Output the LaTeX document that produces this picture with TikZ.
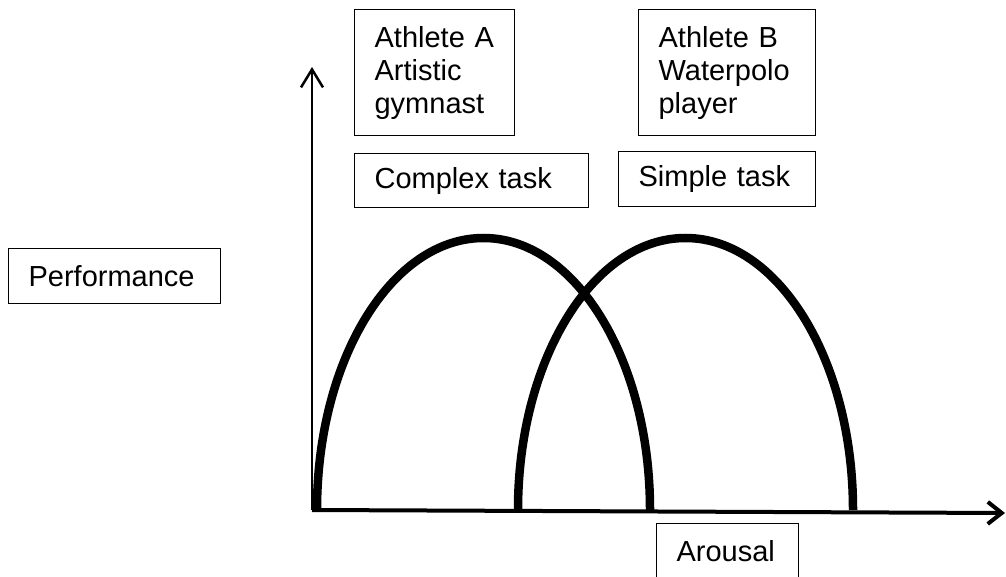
\documentclass[tikz,border=0pt]{standalone}
\usepackage{fontspec}
\setmainfont{Liberation Sans}
\usetikzlibrary{arrows.meta}
\begin{document}
\begin{tikzpicture}[x=1bp,y=-1bp,
  lbl/.style={draw, line width=1.2bp, anchor=north west, align=left,
    inner xsep=20bp, inner ysep=0pt,
    font=\fontsize{29bp}{33bp}\selectfont},
  archline/.style={line width=8.5bp},
  yaxis/.style={line width=2.5bp, -{Straight Barb[length=18bp,width=22bp]}},
  xaxis/.style={line width=4bp, -{Straight Barb[length=14bp,width=22bp]}}]
\useasboundingbox (0,0) rectangle (1006,577);
% labels
\node[lbl, text width=120bp, minimum height=126bp] (athA) at (354,9) {Athlete A\\Artistic\\gymnast};
\node[lbl, text width=137bp, minimum height=126bp] (athB) at (638,9) {Athlete B\\Waterpolo\\player};
\node[lbl, text width=194bp, minimum height=54bp] (cplx) at (354,153) {Complex task};
\node[lbl, text width=157bp, minimum height=55bp] (smpl) at (618,151) {Simple task};
\node[lbl, text width=172bp, minimum height=55bp] (perf) at (8,248) {Performance};
\node[lbl, text width=102bp, minimum height=55bp] (arou) at (656,523) {Arousal};
% axes
\coordinate (O) at (312,510);
\coordinate (Ytop) at (312,67);
\coordinate (Xend) at (1005,513);
\draw[yaxis] (O) -- (Ytop);
\draw[xaxis] (O) -- (Xend);
% arches
\draw[archline] (317,510) arc[start angle=180, end angle=0, x radius=166.5bp, y radius=272bp];
\draw[archline] (518,510) arc[start angle=180, end angle=0, x radius=167.5bp, y radius=272bp];
\end{tikzpicture}
\end{document}
